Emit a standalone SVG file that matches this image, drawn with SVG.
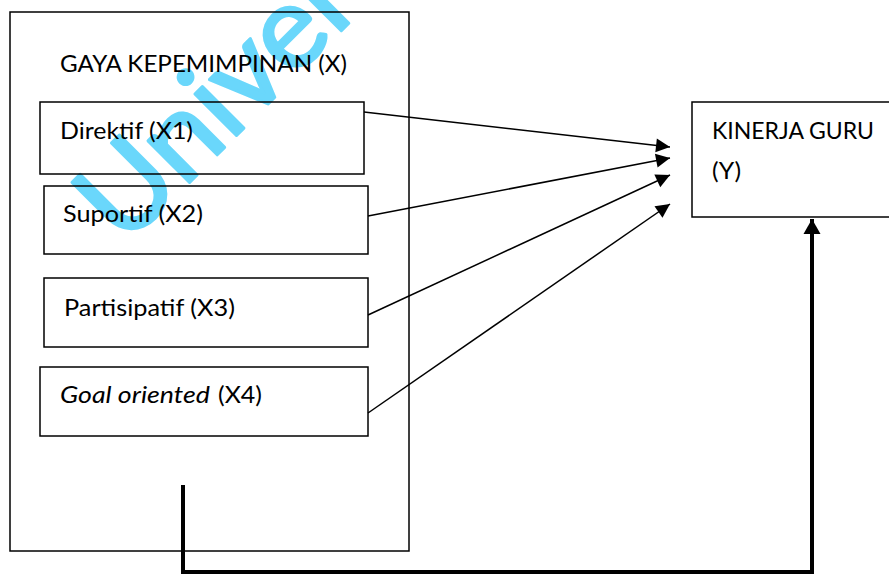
<svg xmlns="http://www.w3.org/2000/svg" width="889" height="574" viewBox="0 0 889 574">
<style>
.box{fill:none;stroke:#000;stroke-width:1.5}
.t{font-family:Lato,"Open Sans","Liberation Sans",sans-serif;font-size:24px;fill:#000}
.wm{font-family:Lato,"Liberation Sans",sans-serif;font-size:116px;fill:#6AD7FB;stroke:#6AD7FB;stroke-width:3;stroke-linejoin:round}
.conn{stroke:#000;stroke-width:1.5;fill:none}
.thick{stroke:#000;stroke-width:4;fill:none}
</style>
<defs>
<marker id="ah" markerUnits="userSpaceOnUse" markerWidth="16" markerHeight="16" viewBox="0 0 16 16" refX="15" refY="8" orient="auto">
<path d="M1,1 L15,8 L1,15 Z" fill="#000"/>
</marker>
<marker id="ahb" markerUnits="userSpaceOnUse" markerWidth="18" markerHeight="18" viewBox="0 0 18 18" refX="16" refY="9" orient="auto">
<path d="M1,0.5 L16,9 L1,17.5 Z" fill="#000"/>
</marker>
</defs>
<rect width="889" height="574" fill="#fff"/>
<text class="wm" transform="translate(124,248) rotate(-45)" textLength="342" lengthAdjust="spacingAndGlyphs">Univer</text>
<g id="gaya">
<rect class="box" x="10" y="12" width="399" height="539"/>
<text class="t" x="60" y="72" textLength="287" lengthAdjust="spacingAndGlyphs">GAYA KEPEMIMPINAN (X)</text>
</g>
<g id="x1">
<rect class="box" x="40" y="102" width="324" height="72"/>
<text class="t" x="60" y="139" textLength="133" lengthAdjust="spacingAndGlyphs">Direktif (X1)</text>
</g>
<g id="x2">
<rect class="box" x="44" y="186" width="324" height="68"/>
<text class="t" x="63" y="222" textLength="140" lengthAdjust="spacingAndGlyphs">Suportif (X2)</text>
</g>
<g id="x3">
<rect class="box" x="44" y="278" width="324" height="69"/>
<text class="t" x="64" y="316" textLength="171" lengthAdjust="spacingAndGlyphs">Partisipatif (X3)</text>
</g>
<g id="x4">
<rect class="box" x="40" y="367" width="328" height="69"/>
<text class="t" y="403"><tspan x="60" font-style="italic" textLength="150" lengthAdjust="spacingAndGlyphs">Goal oriented</tspan><tspan x="218" textLength="44" lengthAdjust="spacingAndGlyphs">(X4)</tspan></text>
</g>
<g id="y">
<rect class="box" x="692" y="102" width="210" height="115"/>
<text class="t" x="712" y="139" textLength="162" lengthAdjust="spacingAndGlyphs">KINERJA GURU</text>
<text class="t" x="712" y="179" textLength="29" lengthAdjust="spacingAndGlyphs">(Y)</text>
</g>
<g id="connectors">
<line class="conn" x1="364" y1="112" x2="670" y2="147" marker-end="url(#ah)"/>
<line class="conn" x1="368" y1="216" x2="670" y2="158" marker-end="url(#ah)"/>
<line class="conn" x1="368" y1="315" x2="670" y2="175" marker-end="url(#ah)"/>
<line class="conn" x1="368" y1="413" x2="670" y2="204" marker-end="url(#ah)"/>
<polyline class="thick" points="183,485 183,572 812,572 812,219" marker-end="url(#ahb)"/>
</g>
</svg>
